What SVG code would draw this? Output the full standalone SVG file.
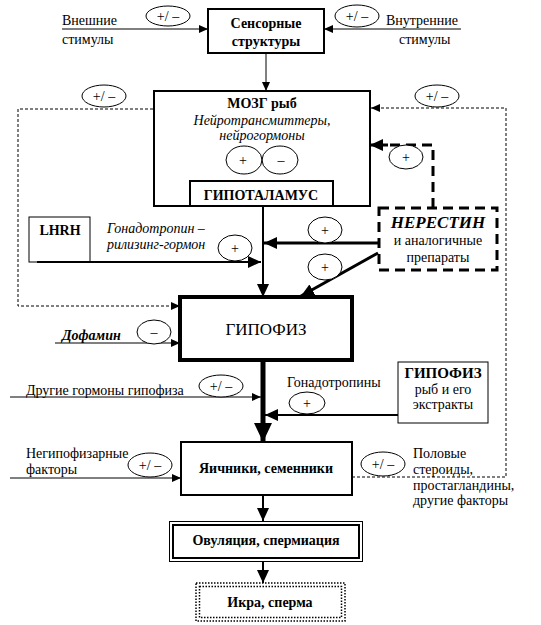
<svg xmlns="http://www.w3.org/2000/svg" width="541" height="625" viewBox="0 0 541 625">
<style>
text{font-family:"Liberation Serif","Times New Roman",serif;fill:#000;font-size:14px}
.b{font-weight:bold}
.i{font-style:italic}
.c{text-anchor:middle}
.box{fill:#fff;stroke:#000;stroke-width:2}
.ln{fill:none;stroke:#000;stroke-width:1}
.ell{fill:#fff;stroke:#000;stroke-width:1}
.dash{fill:none;stroke:#000;stroke-width:1;stroke-dasharray:3 2}
</style>
<defs>
<marker id="aS" markerUnits="userSpaceOnUse" markerWidth="9" markerHeight="8" refX="9" refY="4" orient="auto"><path d="M0,0 L9,4 L0,8 z" fill="#000"/></marker>
<marker id="aM" markerUnits="userSpaceOnUse" markerWidth="13" markerHeight="12" refX="13" refY="6" orient="auto"><path d="M0,0 L13,6 L0,12 z" fill="#000"/></marker>
<marker id="aL" markerUnits="userSpaceOnUse" markerWidth="19" markerHeight="18" refX="19" refY="9" orient="auto"><path d="M0,0 L19,9 L0,18 z" fill="#000"/></marker>
</defs>

<g id="connectors">
<line class="ln" x1="62" y1="29" x2="208" y2="29" marker-end="url(#aS)"/>
<line class="ln" x1="461" y1="29" x2="324" y2="29" marker-end="url(#aS)"/>
<line class="ln" x1="266" y1="53" x2="266" y2="91" marker-end="url(#aS)"/>
<line class="ln" x1="263" y1="143" x2="263" y2="181" marker-end="url(#aS)"/>
<line class="ln" style="stroke-width:2" x1="263" y1="206" x2="263" y2="297" marker-end="url(#aM)"/>
<line class="ln" style="stroke-width:2" x1="37" y1="262" x2="261" y2="262" marker-end="url(#aM)"/>
<line class="ln" style="stroke-width:3" x1="379" y1="243" x2="264" y2="243" marker-end="url(#aM)"/>
<line class="ln" style="stroke-width:3" x1="378" y1="253" x2="301" y2="296" marker-end="url(#aM)"/>
<path class="ln" style="stroke-width:3;stroke-dasharray:10 6" d="M433,208 V145 H388"/>
<line class="ln" style="stroke-width:3" x1="388" y1="145" x2="370" y2="145" marker-end="url(#aM)"/>
<path class="dash" d="M352,477 H506 V108 H371" marker-end="url(#aS)"/>
<path class="dash" d="M153,109 H18 V306 H180" marker-end="url(#aS)"/>
<line class="ln" x1="55" y1="343" x2="180" y2="343" marker-end="url(#aS)"/>
<line class="ln" x1="10" y1="397" x2="261" y2="397" marker-end="url(#aS)"/>
<line class="ln" style="stroke-width:5" x1="263" y1="360" x2="263" y2="442" marker-end="url(#aL)"/>
<line class="ln" style="stroke-width:2" x1="398" y1="415" x2="265" y2="415" marker-end="url(#aM)"/>
<line class="ln" x1="10" y1="478" x2="181" y2="478" marker-end="url(#aS)"/>
<line class="ln" style="stroke-width:2" x1="263" y1="495" x2="263" y2="521" marker-end="url(#aM)"/>
<line class="ln" style="stroke-width:2" x1="263" y1="562" x2="263" y2="583" marker-end="url(#aM)"/>

<ellipse class="ell" cx="168" cy="16" rx="22" ry="10"/><text class="c" x="168" y="21">+/ –</text>
<ellipse class="ell" cx="357" cy="16" rx="22" ry="11"/><text class="c" x="357" y="21">+/ –</text>
<ellipse class="ell" cx="104" cy="96" rx="22" ry="11"/><text class="c" x="104" y="101">+/ –</text>
<ellipse class="ell" cx="437" cy="96" rx="22" ry="11"/><text class="c" x="437" y="101">+/ –</text>
<ellipse class="ell" cx="406" cy="157" rx="17" ry="12"/><text class="c" x="406" y="162">+</text>
<ellipse class="ell" cx="235" cy="248" rx="17" ry="13"/><text class="c" x="235" y="253">+</text>
<ellipse class="ell" cx="325" cy="230" rx="17" ry="13"/><text class="c" x="325" y="235">+</text>
<ellipse class="ell" cx="325" cy="267" rx="17" ry="13"/><text class="c" x="325" y="272">+</text>
<ellipse class="ell" cx="154" cy="332" rx="17" ry="12"/><text class="c" x="154" y="337">–</text>
<ellipse class="ell" cx="221" cy="386" rx="22" ry="11"/><text class="c" x="221" y="391">+/ –</text>
<ellipse class="ell" cx="307" cy="403" rx="18" ry="11"/><text class="c" x="307" y="408">+</text>
<ellipse class="ell" cx="150" cy="465" rx="22" ry="12"/><text class="c" x="150" y="470">+/ –</text>
<ellipse class="ell" cx="383" cy="464" rx="22" ry="12"/><text class="c" x="383" y="469">+/ –</text>

<text x="62" y="25">Внешние</text>
<text x="62" y="44">стимулы</text>
<text x="386" y="25">Внутренние</text>
<text x="399" y="44">стимулы</text>
<text class="i" x="107" y="233">Гонадотропин –</text>
<text class="i" x="107" y="249">рилизинг-гормон</text>
<text class="b i" x="62" y="340">Дофамин</text>
<text x="26" y="395">Другие гормоны гипофиза</text>
<text x="287" y="387">Гонадотропины</text>
<text x="26" y="458">Негипофизарные</text>
<text x="26" y="474">факторы</text>
<text x="413" y="458">Половые</text>
<text x="413" y="474">стероиды,</text>
<text x="413" y="490">простагландины,</text>
<text x="413" y="505">другие факторы</text>
</g>

<g id="sensory">
<rect class="box" x="208" y="9" width="116" height="44"/>
<text class="b c" x="266" y="28">Сенсорные</text>
<text class="b c" x="266" y="46">структуры</text>
</g>

<g id="brain">
<rect class="box" x="154" y="91" width="216" height="115"/>
<text class="b c" x="262" y="108">МОЗГ рыб</text>
<text class="i c" x="262" y="125">Нейротрансмиттеры,</text>
<text class="i c" x="262" y="140">нейрогормоны</text>
<ellipse class="ell" style="fill:none" cx="244" cy="160" rx="18" ry="14"/><text class="c" x="243" y="165">+</text>
<ellipse class="ell" style="fill:none" cx="280" cy="160" rx="18" ry="14"/><text class="c" x="281" y="165">–</text>
</g>

<g id="hypothalamus">
<rect class="box" x="190" y="181" width="143" height="25"/>
<text class="b c" x="261" y="200">ГИПОТАЛАМУС</text>
</g>

<g id="lhrh">
<rect class="ln" x="29" y="217" width="61" height="45"/>
<text class="b c" x="60" y="235">LHRH</text>
</g>

<g id="nerestin">
<rect x="379" y="208" width="118" height="62" style="fill:#fff;stroke:#000;stroke-width:3;stroke-dasharray:10 6"/>
<text class="b i c" x="438" y="228" style="font-size:17px">НЕРЕСТИН</text>
<text class="c" x="438" y="245">и аналогичные</text>
<text class="c" x="438" y="262">препараты</text>
</g>

<g id="hypophysis">
<rect class="box" style="stroke-width:4" x="180" y="297" width="172" height="63"/>
<text class="c" x="266" y="335" style="font-size:17px">ГИПОФИЗ</text>
</g>

<g id="fish-hypophysis">
<rect class="ln" x="398" y="362" width="90" height="61"/>
<text class="b c" x="443" y="378" style="font-size:15px">ГИПОФИЗ</text>
<text class="c" x="443" y="394">рыб и его</text>
<text class="c" x="443" y="409">экстракты</text>
</g>

<g id="gonads">
<rect class="box" x="181" y="442" width="171" height="53"/>
<text class="b c" x="266" y="473">Яичники, семенники</text>
</g>

<g id="ovulation">
<rect class="ln" x="169.5" y="521.5" width="193" height="40"/>
<rect class="ln" style="stroke-width:2" x="173" y="525" width="186" height="33"/>
<text class="b c" x="266" y="545">Овуляция, спермиация</text>
</g>

<g id="roe">
<rect x="196" y="583" width="149" height="38" style="fill:#fff;stroke:#000;stroke-width:1.5;stroke-dasharray:1.5 1.5"/>
<rect x="199.5" y="586.5" width="142" height="31" style="fill:none;stroke:#000;stroke-width:1.5;stroke-dasharray:1.5 1.5"/>
<text class="b c" x="270" y="607">Икра, сперма</text>
</g>
</svg>
